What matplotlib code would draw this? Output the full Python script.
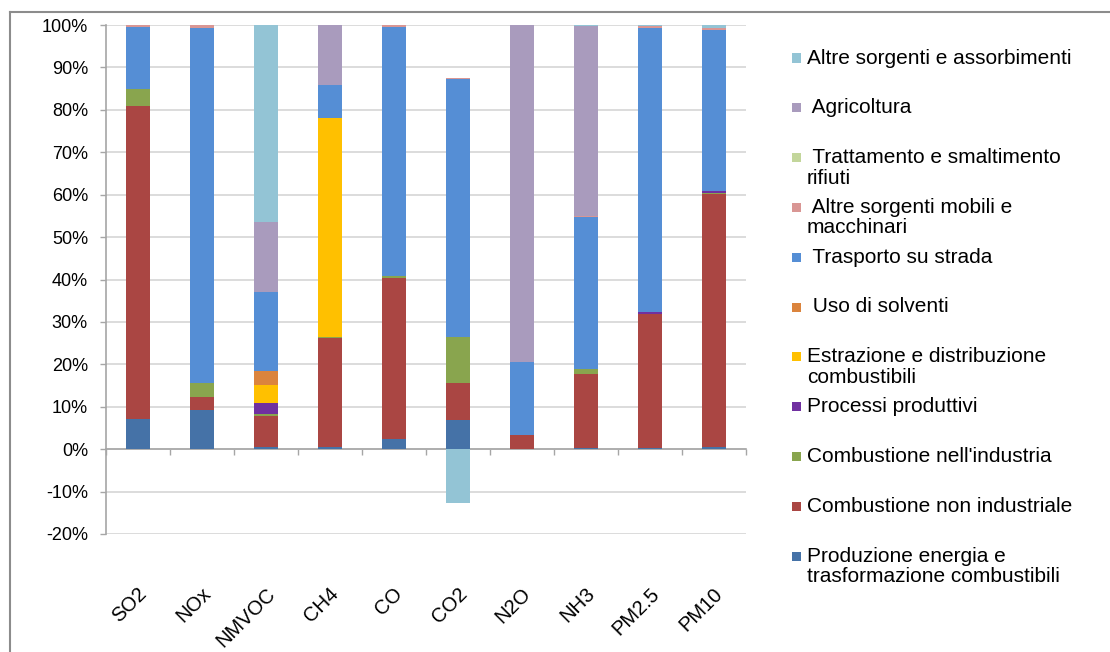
import matplotlib
matplotlib.use("Agg")
import matplotlib.pyplot as plt
import matplotlib.transforms as mtransforms
from matplotlib.patches import Rectangle
from matplotlib.lines import Line2D
import numpy as np

plt.rcParams['font.family'] = ['Liberation Sans', 'DejaVu Sans']

# Pollutants (x categories)
pollutants = ["SO2", "NOx", "NMVOC", "CH4", "CO", "CO2", "N2O", "NH3", "PM2.5", "PM10"]

# Share of emissions by source sector (%), stacked bottom to top
produzione_energia   = [7.0, 9.3, 0.5, 0.5, 2.4, 6.9, 0.0, 0.2, 0.2, 0.5]
combustione_non_ind  = [73.9, 3.1, 7.4, 25.8, 37.9, 8.8, 3.3, 17.6, 31.7, 59.6]
combustione_ind      = [4.0, 3.1, 0.3, 0.2, 0.6, 10.8, 0.0, 1.1, 0.0, 0.4]
processi_produttivi  = [0.0, 0.0, 2.6, 0.0, 0.0, 0.0, 0.0, 0.0, 0.4, 0.4]
estrazione_distrib   = [0.0, 0.0, 4.3, 51.5, 0.0, 0.0, 0.0, 0.0, 0.0, 0.0]
uso_solventi         = [0.0, 0.0, 3.4, 0.0, 0.0, 0.0, 0.0, 0.0, 0.0, 0.0]
trasporto_strada     = [14.7, 83.7, 18.6, 7.9, 58.7, 60.7, 17.3, 35.9, 67.1, 37.9]
altre_mobili         = [0.4, 0.8, 0.0, 0.0, 0.4, 0.3, 0.0, 0.2, 0.4, 0.6]
trattamento_rifiuti  = [0.0, 0.0, 0.0, 0.0, 0.0, 0.0, 0.0, 0.0, 0.0, 0.0]
agricoltura          = [0.0, 0.0, 16.5, 14.1, 0.0, 0.0, 79.4, 44.8, 0.0, 0.0]
altre_sorgenti       = [0.0, 0.0, 46.4, 0.0, 0.0, -12.6, 0.0, 0.2, 0.2, 0.6]

series_names = [
    "Produzione energia e\ntrasformazione combustibili",
    "Combustione non industriale",
    "Combustione nell'industria",
    "Processi produttivi",
    "Estrazione e distribuzione\ncombustibili",
    " Uso di solventi",
    " Trasporto su strada",
    " Altre sorgenti mobili e\nmacchinari",
    " Trattamento e smaltimento\nrifiuti",
    " Agricoltura",
    "Altre sorgenti e assorbimenti",
]
series_values = [
    produzione_energia, combustione_non_ind, combustione_ind, processi_produttivi,
    estrazione_distrib, uso_solventi, trasporto_strada, altre_mobili,
    trattamento_rifiuti, agricoltura, altre_sorgenti,
]
series_colors = [
    "#4572A7", "#AA4643", "#89A54E", "#7030A0", "#FFC000", "#DB843D",
    "#558ED5", "#D99694", "#C3D69B", "#A99BBD", "#93C4D5",
]

W, H = 1110, 652
fig = plt.figure(figsize=(W / 100, H / 100), dpi=100)
ax = fig.add_axes([106 / W, 1 - 534 / H, 640 / W, 509 / H])

x = np.arange(len(pollutants))
pos_bottom = np.zeros(len(pollutants))
neg_bottom = np.zeros(len(pollutants))
for vals, col in zip(series_values, series_colors):
    v = np.asarray(vals, dtype=float)
    bottom = np.where(v >= 0, pos_bottom, neg_bottom)
    ax.bar(x, v, width=0.39, bottom=bottom, color=col, linewidth=0, zorder=3)
    pos_bottom += np.where(v >= 0, v, 0)
    neg_bottom += np.where(v < 0, v, 0)

ax.set_xlim(-0.5, len(pollutants) - 0.5)
ax.set_ylim(-20, 100)

# Horizontal gridlines
ax.set_yticks(np.arange(-20, 101, 10))
ax.set_yticklabels([f"{t}%" for t in range(-20, 101, 10)], fontsize=13)
ax.yaxis.grid(True, color="#D9D9D9", linewidth=1.3, zorder=0)
ax.set_axisbelow(True)
ax.tick_params(axis="y", direction="out", length=4, width=1, color="#A6A6A6", pad=9)

# Axis lines
for s in ("top", "right"):
    ax.spines[s].set_visible(False)
ax.spines["left"].set_color("#A6A6A6")
ax.spines["left"].set_linewidth(1.2)
ax.spines["bottom"].set_position(("data", 0))
ax.spines["bottom"].set_color("#A6A6A6")
ax.spines["bottom"].set_linewidth(1.2)

# Category ticks between bars, labels centred under bars
ax.set_xticks(x)
ax.set_xticks(np.arange(-0.5, len(pollutants), 1.0), minor=True)
ax.tick_params(axis="x", which="major", length=0, pad=102)
ax.tick_params(axis="x", which="minor", direction="out", length=4, width=1, color="#A6A6A6")
ax.set_xticklabels(pollutants, fontsize=14.5)
shift = mtransforms.ScaledTranslation(6 / 100, 0, fig.dpi_scale_trans)
for lab in ax.get_xticklabels():
    lab.set_rotation(45)
    lab.set_ha("right")
    lab.set_va("center")
    lab.set_rotation_mode("anchor")
    lab.set_transform(lab.get_transform() + shift)

# Legend, top entry first, evenly pitched
y0, pitch = 58, 49.8
for i, (name, col) in enumerate(zip(series_names[::-1], series_colors[::-1])):
    yc = y0 + i * pitch
    fig.patches.append(Rectangle((792 / W, 1 - (yc + 4.5) / H), 9 / W, 9 / H,
                                 transform=fig.transFigure, facecolor=col,
                                 edgecolor="none"))
    fig.text(807 / W, 1 - (yc - 9.5) / H, name, fontsize=15, va="top", ha="left",
             linespacing=1.1)

# Outer frame
fig.add_artist(Line2D([10 / W, 1], [1 - 12 / H, 1 - 12 / H], transform=fig.transFigure,
                      color="#8C8C8C", linewidth=1.5))
fig.add_artist(Line2D([10 / W, 10 / W], [0, 1 - 12 / H], transform=fig.transFigure,
                      color="#8C8C8C", linewidth=1.5))

fig.savefig("out.png", dpi=100)
